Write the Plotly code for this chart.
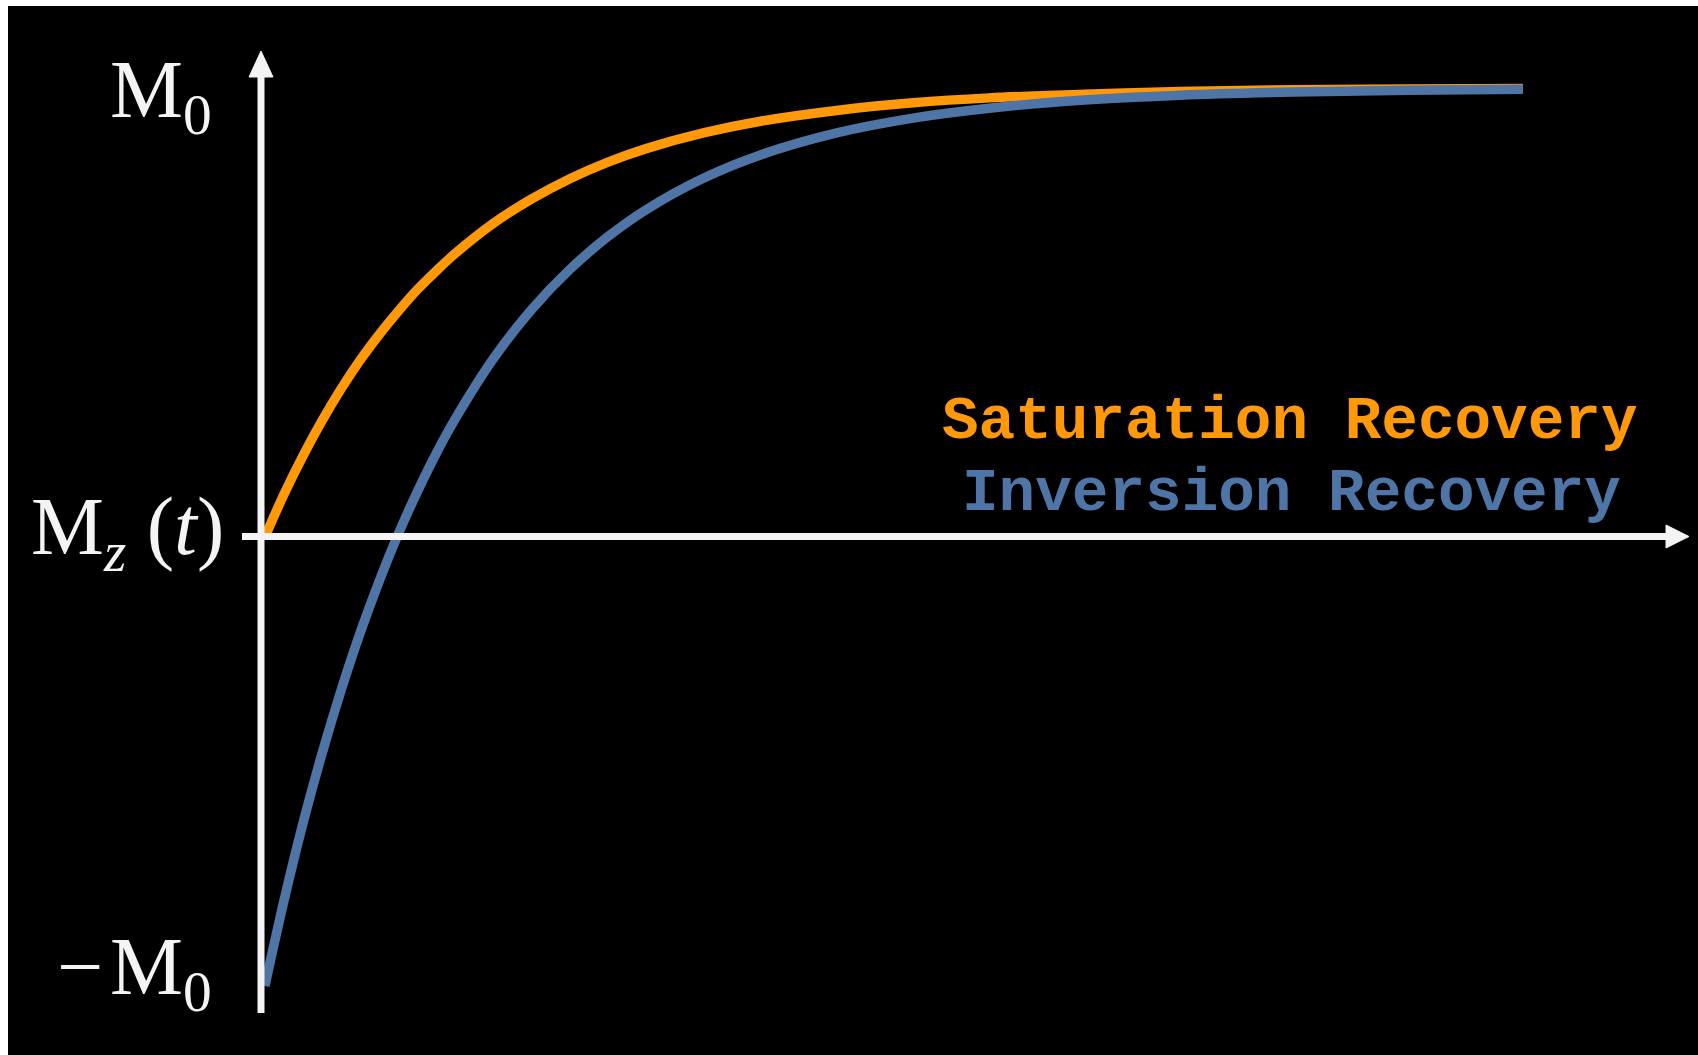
import plotly.graph_objects as go

# Time in units of T1
t_values = [0.0, 0.1, 0.2, 0.3, 0.4, 0.5, 0.6, 0.7, 0.8, 0.9, 1.0, 1.2, 1.4,
            1.6, 1.8, 2.0, 2.3, 2.6, 3.0, 3.4, 3.8, 4.3, 4.8, 5.4, 6.0, 6.6]

# Longitudinal magnetisation Mz(t) / M0
saturation_recovery = [0.000, 0.095, 0.181, 0.259, 0.330, 0.394, 0.451, 0.503,
                       0.551, 0.593, 0.632, 0.699, 0.753, 0.798, 0.835, 0.865,
                       0.900, 0.926, 0.950, 0.967, 0.978, 0.986, 0.992, 0.996,
                       0.998, 0.999]
inversion_recovery = [-1.000, -0.810, -0.637, -0.482, -0.341, -0.213, -0.098,
                      0.007, 0.101, 0.187, 0.264, 0.398, 0.507, 0.596, 0.669,
                      0.729, 0.799, 0.851, 0.900, 0.933, 0.955, 0.973, 0.984,
                      0.991, 0.995, 0.997]

series_names = ["Saturation Recovery", "Inversion Recovery"]
y_tick_labels = ["M<sub>0</sub>",
                 "M<sub><i>z</i></sub> (<i>t</i>)",
                 "\u2212\u200aM<sub>0</sub>"]

ORANGE = "#FF990A"
BLUE = "#4F74A6"
WHITE = "#F4F4F4"

W, H = 1698, 1055
L, T = 8, 6  # thin white frame on the left and top


def px(x):
    return (x - L) / (W - L)


def py(y):
    return 1 - (y - T) / (H - T)


fig = go.Figure()
fig.add_trace(go.Scatter(x=t_values, y=saturation_recovery, mode="lines",
                         name=series_names[0], line=dict(color=ORANGE, width=9.5, shape="spline"),
                         hoverinfo="skip"))
fig.add_trace(go.Scatter(x=t_values, y=inversion_recovery, mode="lines",
                         name=series_names[1], line=dict(color=BLUE, width=9.5, shape="spline"),
                         hoverinfo="skip"))

# Axis arrows
shapes = [
    dict(type="line", xref="paper", yref="paper", x0=px(261), x1=px(261), y0=py(1013), y1=py(74),
         line=dict(color=WHITE, width=7)),
    dict(type="path", xref="paper", yref="paper",
         path=f"M {px(261)} {py(51)} L {px(249)} {py(77)} L {px(273)} {py(77)} Z",
         fillcolor=WHITE, line=dict(color=WHITE, width=1)),
    dict(type="line", xref="paper", yref="paper", x0=px(242), x1=px(1668), y0=py(536.5), y1=py(536.5),
         line=dict(color=WHITE, width=7)),
    dict(type="path", xref="paper", yref="paper",
         path=f"M {px(1689)} {py(536.5)} L {px(1666)} {py(525)} L {px(1666)} {py(548)} Z",
         fillcolor=WHITE, line=dict(color=WHITE, width=1)),
]

serif = dict(family="Liberation Serif, DejaVu Serif, serif", size=82, color=WHITE)
mono = dict(family="Liberation Mono, Courier New, monospace", size=61)

annotations = [
    dict(text=y_tick_labels[0], x=px(214), y=py(95), xref="paper", yref="paper",
         xanchor="right", yanchor="middle", showarrow=False, font=serif),
    dict(text=y_tick_labels[1], x=px(226), y=py(532), xref="paper", yref="paper",
         xanchor="right", yanchor="middle", showarrow=False, font=serif),
    dict(text=y_tick_labels[2], x=px(214), y=py(972), xref="paper", yref="paper",
         xanchor="right", yanchor="middle", showarrow=False, font=serif),
    dict(text=f"<b>{series_names[0]}</b>", x=px(1290), y=py(422), xref="paper", yref="paper",
         xanchor="center", yanchor="middle", showarrow=False, font=dict(mono, color=ORANGE)),
    dict(text=f"<b>{series_names[1]}</b>", x=px(1291), y=py(494), xref="paper", yref="paper",
         xanchor="center", yanchor="middle", showarrow=False, font=dict(mono, color=BLUE)),
]

fig.update_layout(
    width=W, height=H,
    margin=dict(l=L, r=0, t=T, b=0, pad=0),
    paper_bgcolor="white",
    plot_bgcolor="black",
    showlegend=False,
    xaxis=dict(range=[-1.348, 7.519], visible=False, fixedrange=True),
    yaxis=dict(range=[-1.1537, 1.1826], visible=False, fixedrange=True),
    shapes=shapes,
    annotations=annotations,
)

fig.write_html("out.html", config={"displayModeBar": False})
